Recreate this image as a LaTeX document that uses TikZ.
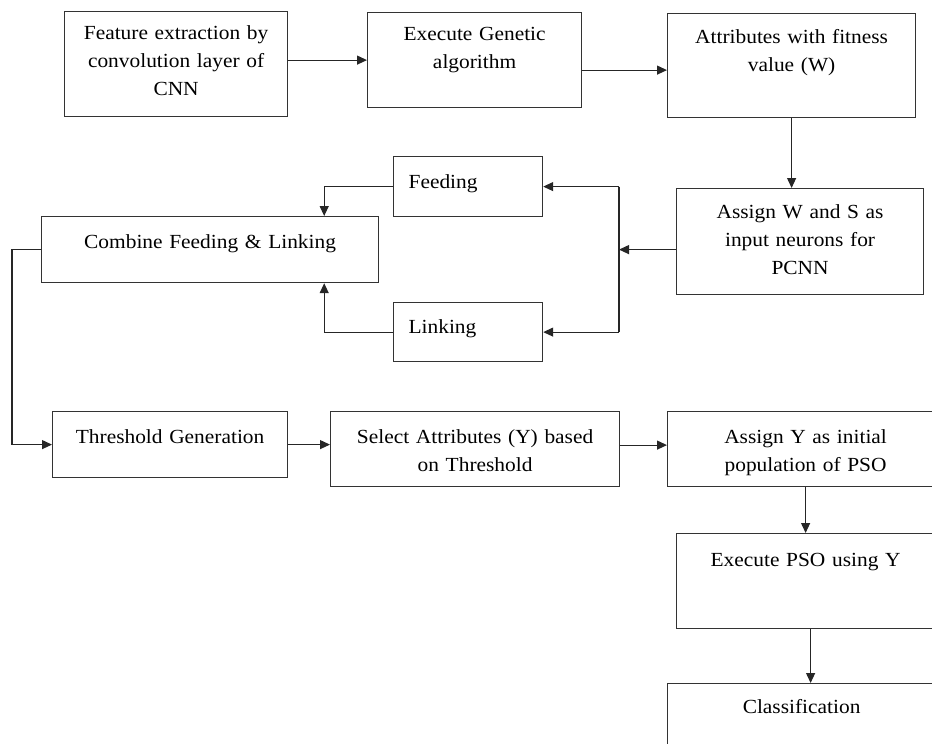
\documentclass[tikz,border=0pt]{standalone}
\usepackage{fontspec}
\setmainfont{Liberation Serif}[FakeStretch=1.07]
\usetikzlibrary{arrows.meta}

\begin{document}
\begin{tikzpicture}[x=1pt,y=-1pt,>={Triangle[length=10pt,width=9pt]},
  box/.style={draw=black!80,line width=1.2pt,inner sep=0pt,anchor=north west,align=center,font=\fontsize{20}{28}\selectfont},
  side/.style={box,align=left,inner xsep=15pt,text width=119pt},
  conn/.style={black!85,line width=1.2pt}]
\useasboundingbox (0,0) rectangle (932,744);
\clip (0,0) rectangle (932,744);

\node[box,text width=223pt,text height=28pt,text depth=77pt] (fe) at (64,11) {Feature extraction by\\ convolution layer of\\ CNN};
\node[box,text width=214pt,text height=28pt,text depth=67pt] (ga) at (367,12) {Execute Genetic\\ algorithm};
\node[box,text width=248pt,text height=30pt,text depth=74pt] (fit) at (667,13) {Attributes with fitness\\ value (W)};
\node[box,text width=247pt,text height=30pt,text depth=76pt] (pcnn) at (676,188) {Assign W and S as\\ input neurons for\\ PCNN};
\node[side,text height=32pt,text depth=28pt] (feed) at (393,156) {Feeding};
\node[side,text height=31pt,text depth=28pt] (link) at (393,302) {Linking};
\node[box,text width=337pt,text height=32pt,text depth=34pt] (comb) at (41,216) {Combine Feeding \& Linking};
\node[box,text width=235pt,text height=32pt,text depth=34pt] (thr) at (52,411) {Threshold Generation};
\node[box,text width=289pt,text height=32pt,text depth=43pt] (sel) at (330,411) {Select Attributes (Y) based\\ on Threshold};
\node[box,text width=276pt,text height=32pt,text depth=43pt] (asgy) at (667,411) {Assign Y as initial\\ population of PSO};
\node[box,text width=258pt,text height=33pt,text depth=62pt] (pso) at (676,533) {Execute PSO using Y};
\node[box,text width=268pt,text height=30pt,text depth=60pt] (cls) at (667,683) {Classification};
\coordinate (split) at (619,249);

\draw[->,conn] (fe.east |- ga.west) -- (ga.west);
\draw[->,conn] ([yshift=-10pt]ga.east) -- ([yshift=-10pt]ga.east -| fit.west);
\draw[->,conn] (fit.south) -- (fit.south |- pcnn.north);
\draw[->,conn] ([yshift=-8pt]pcnn.west) -- ([yshift=-8pt]pcnn.west -| split);
\draw[conn] (split |- feed.east) -- (split |- link.east);
\draw[->,conn] (split |- feed.east) -- (feed.east);
\draw[->,conn] (split |- link.east) -- (link.east);
\draw[->,conn] (feed.west) -| ([xshift=-55pt]comb.north east);
\draw[->,conn] (link.west) -| ([xshift=-55pt]comb.south east);
\draw[->,conn] (comb.west) -- ++(-29,0) |- (thr.west);
\draw[->,conn] (thr.east) -- (thr.east -| sel.west);
\draw[->,conn] ([yshift=4pt]sel.east) -- ([yshift=4pt]sel.east -| asgy.west);
\draw[->,conn] (asgy.south) -- (asgy.south |- pso.north);
\draw[->,conn] ([xshift=5pt]pso.south) -- ([xshift=5pt]pso.south |- cls.north);
\end{tikzpicture}
\end{document}
